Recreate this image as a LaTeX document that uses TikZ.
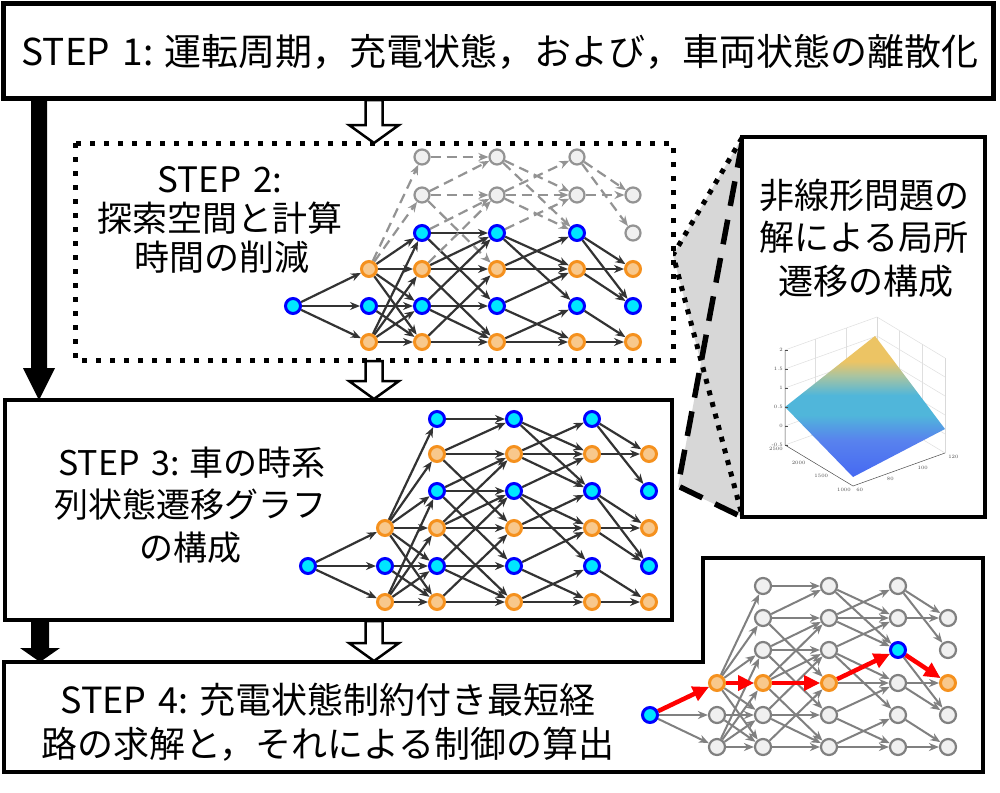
\documentclass[tikz,border=0pt]{standalone}
\usepackage{fontspec}
\newfontfamily\jp{Noto Sans CJK JP}
\usetikzlibrary{arrows.meta}
\definecolor{bluebd}{RGB}{0,0,255}
\definecolor{cyanf}{RGB}{0,230,255}
\definecolor{orbd}{RGB}{245,145,30}
\definecolor{orf}{RGB}{248,200,140}
\definecolor{grbd}{RGB}{128,128,128}
\definecolor{grf}{RGB}{240,240,240}
\definecolor{funnel}{RGB}{215,215,215}
\definecolor{surftop}{RGB}{236,196,100}
\definecolor{surfmix}{RGB}{170,196,160}
\definecolor{surfmid}{RGB}{80,182,218}
\definecolor{surflow}{RGB}{88,130,238}
\definecolor{surfbot}{RGB}{70,105,242}
\pgfdeclareverticalshading{surfshade}{100bp}{color(0bp)=(surfbot); color(25bp)=(surfbot); color(38bp)=(surflow); color(47bp)=(surfmid); color(54bp)=(surfmid); color(61bp)=(surfmix); color(66bp)=(surftop); color(100bp)=(surftop)}
\pgfdeclarelayer{boxes}
\pgfdeclarelayer{edges}
\pgfsetlayers{boxes,edges,main}
\newcommand\hollowarr[3]{%
  \draw[line width=2.5pt, fill=white, line join=miter]
    (#1-8.5,#2) -- (#1-8.5,#3-18) -- (#1-25,#3-18) -- (#1,#3) -- (#1+25,#3-18) -- (#1+8.5,#3-18) -- (#1+8.5,#2) -- cycle;}
\def\edgelist{0/4/3,0/4/4,0/4/5,
1/3/0,1/3/1,1/3/2,1/3/3,1/3/4,1/3/5,1/4/4,1/4/5,1/5/2,1/5/3,1/5/4,1/5/5,
2/0/0,2/1/0,2/1/1,2/1/3,2/2/1,2/2/2,2/2/4,2/3/1,2/3/2,2/3/3,2/3/5,2/4/2,2/4/4,2/4/5,2/5/3,2/5/5,
3/0/1,3/0/2,3/1/0,3/1/1,3/1/2,3/2/1,3/2/3,3/2/4,3/3/2,3/3/3,3/4/3,3/4/5,3/5/4,3/5/5,
4/0/1,4/0/2,4/1/1,4/2/3,4/2/4,4/3/3,4/3/4,4/4/5,4/5/5}
\begin{document}
\begin{tikzpicture}[x=1pt,y=-1pt,
  bn/.style={circle, draw=bluebd, fill=cyanf, line width=3pt, minimum size=15pt, inner sep=0pt},
  on/.style={circle, draw=orbd, fill=orf, line width=3pt, minimum size=15pt, inner sep=0pt},
  gn/.style={circle, draw=grbd, fill=grf, line width=2.2pt, minimum size=16pt, inner sep=0pt},
  pn/.style={circle, draw=gray!85, fill=grf, line width=2.2pt, minimum size=15pt, inner sep=0pt},
  se/.style={draw=black!80, line width=2.2pt, -{Stealth[length=10pt,width=8pt]}},
  pe/.style={draw=gray!85, line width=2.2pt, dash pattern=on 10pt off 6pt, -{Stealth[length=10pt,width=8pt]}},
  ge/.style={draw=grbd, line width=2pt, -{Stealth[length=10pt,width=8pt]}},
  re/.style={draw=red, line width=4.5pt, -{Triangle[length=16pt,width=15pt]}},
  txt/.style={font=\jp\fontsize{#1}{#1}\selectfont, inner sep=0pt},
  tick/.style={font=\fontsize{5}{5}\selectfont, text=black!70, inner sep=0pt}
]
\useasboundingbox (0,0) rectangle (1000,792);
\begin{pgfonlayer}{boxes}
  \fill[white] (0,0) rectangle (1000,792);
  % funnel
  \fill[funnel] (742,138) -- (673,255) -- (701,363) -- (678,487) -- (742,517) -- cycle;
  \draw[line width=5.5pt, dash pattern=on 25pt off 14pt] (742,143) -- (678,486) -- (742,517);
  \draw[line width=5pt, dash pattern=on 5pt off 7pt] (742,138) -- (673,255) -- (742,515);
  % boxes
  \draw[line width=5pt, fill=white] (3,4) rectangle (993,98);
  \draw[line width=5pt, dash pattern=on 5pt off 9pt, fill=white] (75,143) rectangle (673,360);
  \draw[line width=4pt, fill=white] (5,400) rectangle (672,620);
  \draw[line width=3.5pt, fill=white] (4,662) -- (703,662) -- (703,558) -- (983,558) -- (983,772) -- (4,772) -- cycle;
  \draw[line width=4pt, fill=white] (742,137) rectangle (985,517);
\end{pgfonlayer}

% big arrows
\fill[black] (31,98) -- (47,98) -- (47,368) -- (55,368) -- (39,400) -- (23,368) -- (31,368) -- cycle;
\fill[black] (31,620) -- (49,620) -- (49,648) -- (60,648) -- (40,662) -- (20,648) -- (31,648) -- cycle;
\hollowarr{374}{100}{143}
\hollowarr{374}{361}{399}
\hollowarr{374}{621}{661}

% texts
\node[txt=37] (t1) at (500,52) {STEP\,\,1: 運転周期，充電状態，および，車両状態の離散化};
\node[txt=35] (t2a) at (220,180) {STEP\,\,2:};
\node[txt=35] (t2b) at (220,218) {探索空間と計算};
\node[txt=35] (t2c) at (222,257) {時間の削減};
\node[txt=34] (t3a) at (192,463) {STEP\,\,3: 車の時系};
\node[txt=34] (t3b) at (190,505) {列状態遷移グラフ};
\node[txt=34] (t3c) at (190,548) {の構成};
\node[txt=36] (t4a) at (328,700) {STEP\,\,4: 充電状態制約付き最短経};
\node[txt=36] (t4b) at (328,744) {路の求解と，それによる制御の算出};
\node[txt=35] (tra) at (864,195) {非線形問題の};
\node[txt=35] (trb) at (864,237) {解による局所};
\node[txt=35] (trc) at (866,281) {遷移の構成};

% ---------- STEP 2 graph ----------
\foreach \c/\x in {0/293,1/369,2/422,3/497,4/577,5/633}{
  \foreach \r/\y in {0/157,1/195,2/233,3/269,4/306,5/342}{
    \pgfmathtruncatemacro\ex{((\c==0 && \r==4) || (\c==1 && \r>=3) || (\c>=2 && \c<=4) || (\c==5 && \r>=1)) ? 1 : 0}
    \pgfmathtruncatemacro\pr{((\c>=2 && \c<=4 && \r<=1) || (\c==5 && \r<=2)) ? 1 : 0}
    \pgfmathtruncatemacro\ev{mod(\r,2)==0 ? 1 : 0}
    \ifnum\ex=1
      \ifnum\pr=1 \node[pn] (p\c-\r) at (\x,\y) {};
      \else\ifnum\ev=1 \node[bn] (p\c-\r) at (\x,\y) {};
      \else \node[on] (p\c-\r) at (\x,\y) {};\fi\fi
    \fi
  }}
\begin{pgfonlayer}{edges}
\foreach \c/\r/\t in \edgelist {
  \pgfmathtruncatemacro\n{\c+1}
  \pgfmathtruncatemacro\pr{((\c>=2 && \r<=1) || (\n>=2 && \n<=4 && \t<=1) || (\n==5 && \t<=2)) ? 1 : 0}
  \ifnum\pr=1 \draw[pe] (p\c-\r) -- (p\n-\t);
  \else \draw[se] (p\c-\r) -- (p\n-\t);\fi
}
\end{pgfonlayer}

% ---------- STEP 3 graph ----------
\foreach \c/\x in {0/308,1/385,2/437,3/514,4/592,5/649}{
  \foreach \r/\y in {0/419,1/454,2/491,3/528,4/566,5/602}{
    \pgfmathtruncatemacro\ex{((\c==0 && \r==4) || (\c==1 && \r>=3) || (\c>=2 && \c<=4) || (\c==5 && \r>=1)) ? 1 : 0}
    \pgfmathtruncatemacro\ev{mod(\r,2)==0 ? 1 : 0}
    \ifnum\ex=1
      \ifnum\ev=1 \node[bn] (q\c-\r) at (\x,\y) {};
      \else \node[on] (q\c-\r) at (\x,\y) {};\fi
    \fi
  }}
\begin{pgfonlayer}{edges}
\foreach \c/\r/\t in \edgelist {
  \pgfmathtruncatemacro\n{\c+1}
  \draw[se] (q\c-\r) -- (q\n-\t);
}
\end{pgfonlayer}

% ---------- STEP 4 graph ----------
\foreach \c/\x in {0/650,1/717,2/763,3/829,4/898,5/948}{
  \foreach \r/\y in {0/586,1/618,2/650,3/683,4/715,5/747}{
    \pgfmathtruncatemacro\ex{((\c==0 && \r==4) || (\c==1 && \r>=3) || (\c>=2 && \c<=4) || (\c==5 && \r>=1)) ? 1 : 0}
    \pgfmathtruncatemacro\sp{((\c==0 && \r==4) || (\c==1 && \r==3) || (\c==2 && \r==3) || (\c==3 && \r==3) || (\c==4 && \r==2) || (\c==5 && \r==3)) ? 1 : 0}
    \pgfmathtruncatemacro\ev{mod(\r,2)==0 ? 1 : 0}
    \ifnum\ex=1
      \ifnum\sp=1
        \ifnum\ev=1 \node[bn] (g\c-\r) at (\x,\y) {};
        \else \node[on] (g\c-\r) at (\x,\y) {};\fi
      \else \node[gn] (g\c-\r) at (\x,\y) {};\fi
    \fi
  }}
\begin{pgfonlayer}{edges}
\foreach \c/\r/\t in \edgelist {
  \pgfmathtruncatemacro\n{\c+1}
  \draw[ge] (g\c-\r) -- (g\n-\t);
}
\draw[re] (g0-4) -- (g1-3);
\draw[re] (g1-3) -- (g2-3);
\draw[re] (g2-3) -- (g3-3);
\draw[re] (g3-3) -- (g4-2);
\draw[re] (g4-2) -- (g5-3);
\end{pgfonlayer}

% ---------- 3D surface plot ----------
\begin{scope}[line width=0.5pt]
  \foreach \y in {350,369,388,407,426,445}{
    \draw[gray!25] (785,\y) -- (877,\y-33) -- (945,\y+8);
  }
  \foreach \k in {1,2}{
    \draw[gray!25] (785+92*\k/3,445-33*\k/3) -- (785+92*\k/3,350-33*\k/3);
    \draw[gray!25] (877+68*\k/3,412+41*\k/3) -- (877+68*\k/3,317+41*\k/3);
  }
  \draw[gray!30] (877,412) -- (877,317);
  \draw[gray!30] (945,453) -- (945,358);
  \shade[shading=surfshade]
    (785,407) -- (875,336) -- (945,429) -- (853,477) -- cycle;
  \draw[black!70] (785,350) -- (785,445) -- (853,486) -- (945,453);
  \foreach \y/\l in {350/2,369/1.5,388/1,407/0.5,426/0,445/-0.5}{
    \draw[black!70] (785,\y) -- (788,\y);
    \node[tick, anchor=east] at (783,\y) {\l};
  }
  \foreach \k/\l in {0/2500,1/2000,2/1500,3/1000}{
    \node[tick, anchor=north east] at (783+68*\k/3,447+41*\k/3) {\l};
  }
  \foreach \k/\l in {0/60,1/80,2/100,3/120}{
    \node[tick, anchor=north west] at (856+92*\k/3,488-33*\k/3) {\l};
  }
\end{scope}
\end{tikzpicture}
\end{document}
